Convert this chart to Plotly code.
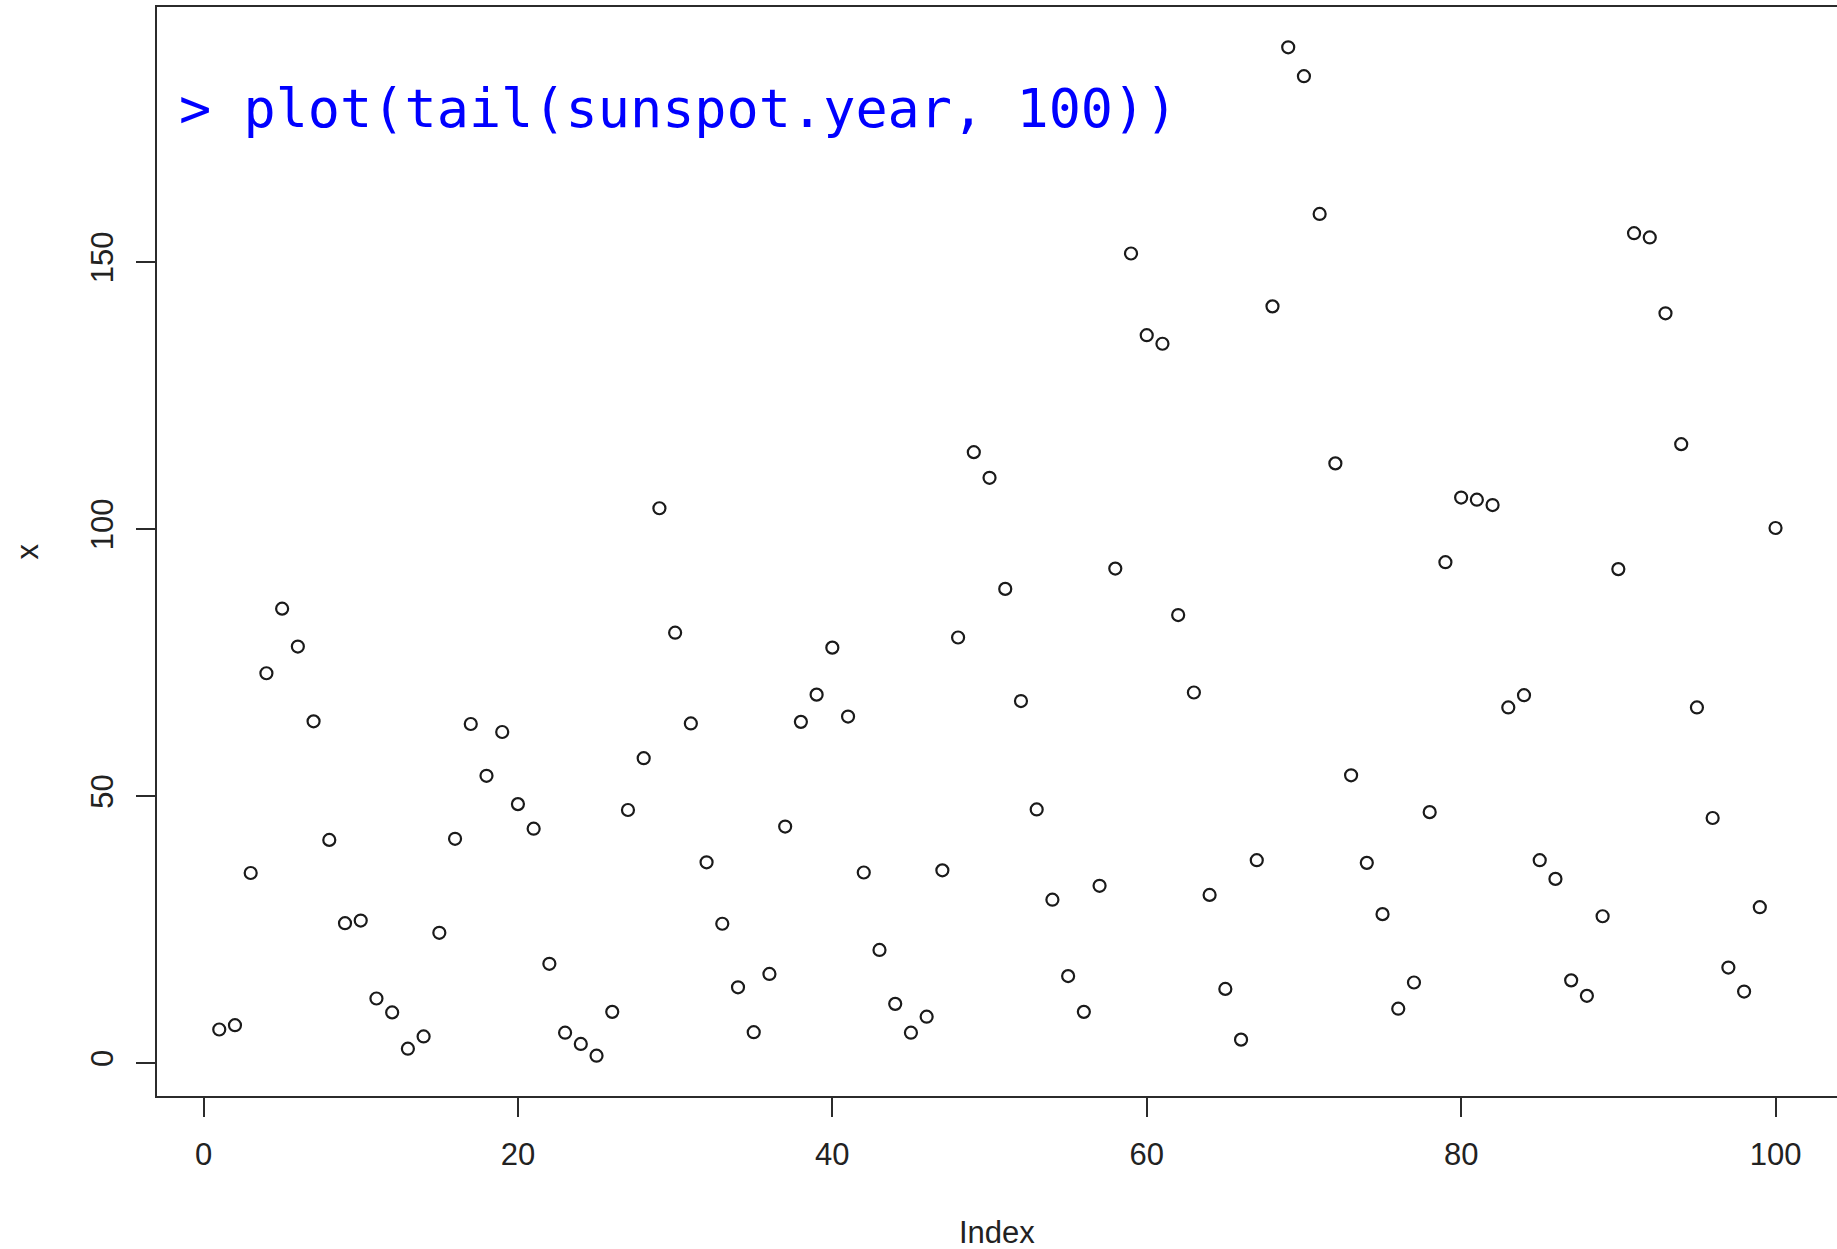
import plotly.graph_objects as go

# Yearly mean sunspot numbers, 1889-1988 (last 100 values of sunspot.year)
sunspots = [
    6.3, 7.1, 35.6, 73.0, 85.1, 78.0, 64.0, 41.8, 26.2, 26.7,
    12.1, 9.5, 2.7, 5.0, 24.4, 42.0, 63.5, 53.8, 62.0, 48.5,
    43.9, 18.6, 5.7, 3.6, 1.4, 9.6, 47.4, 57.1, 103.9, 80.6,
    63.6, 37.6, 26.1, 14.2, 5.8, 16.7, 44.3, 63.9, 69.0, 77.8,
    64.9, 35.7, 21.2, 11.1, 5.7, 8.7, 36.1, 79.7, 114.4, 109.6,
    88.8, 67.8, 47.5, 30.6, 16.3, 9.6, 33.2, 92.6, 151.6, 136.3,
    134.7, 83.9, 69.4, 31.5, 13.9, 4.4, 38.0, 141.7, 190.2, 184.8,
    159.0, 112.3, 53.9, 37.5, 27.9, 10.2, 15.1, 47.0, 93.8, 105.9,
    105.5, 104.5, 66.6, 68.9, 38.0, 34.5, 15.5, 12.6, 27.5, 92.5,
    155.4, 154.6, 140.4, 115.9, 66.6, 45.9, 17.9, 13.4, 29.2, 100.2,
]
index = list(range(1, len(sunspots) + 1))

x_ticks = [0, 20, 40, 60, 80, 100]
y_ticks = [0, 50, 100, 150]
command_text = "> plot(tail(sunspot.year, 100))"

axis_color = "#2b2b2b"
label_font = dict(family="Liberation Sans, Arial, sans-serif", size=31, color="#222222")

fig = go.Figure()
fig.add_trace(go.Scatter(
    x=index, y=sunspots, mode="markers",
    marker=dict(symbol="circle-open", size=12, color="#1a1a1a",
                line=dict(width=2.2, color="#1a1a1a")),
    showlegend=False, hoverinfo="x+y",
))

# R-style 4% padding on each axis
ymin, ymax = min(sunspots), max(sunspots)
ypad = 0.04 * (ymax - ymin)
xpad = 0.04 * (len(sunspots) - 1)

fig.update_layout(
    width=1837, height=1249,
    margin=dict(l=157, r=0, t=7, b=153),
    plot_bgcolor="white", paper_bgcolor="white",
    xaxis=dict(
        range=[1 - xpad, 1 - xpad + (1837 - 157) / 15.72],
        tickvals=x_ticks, ticktext=[str(v) for v in x_ticks],
        ticks="outside", ticklen=19, tickwidth=2, tickcolor=axis_color,
        showline=True, linecolor=axis_color, linewidth=2, mirror=True,
        showgrid=False, zeroline=False, tickfont=label_font,
        ticklabelstandoff=11,
    ),
    yaxis=dict(
        range=[ymin - ypad, ymax + ypad],
        tickvals=y_ticks, ticktext=[str(v) for v in y_ticks],
        ticks="outside", ticklen=19, tickwidth=2, tickcolor=axis_color,
        showline=True, linecolor=axis_color, linewidth=2,
        showgrid=False, zeroline=False, tickfont=label_font, tickangle=-90,
        ticklabelstandoff=11,
    ),
    annotations=[
        dict(text="Index", xref="paper", yref="paper", x=0.5, y=0,
             xanchor="center", yanchor="middle", yshift=-136,
             showarrow=False, font=label_font),
        dict(text="x", xref="paper", yref="paper", x=0, y=0.5,
             xanchor="center", yanchor="middle", xshift=-130, textangle=-90,
             showarrow=False, font=label_font),
        dict(text=command_text, xref="paper", yref="paper", x=0, y=1,
             xanchor="left", yanchor="middle", xshift=20, yshift=-101,
             showarrow=False,
             font=dict(family="DejaVu Sans Mono, monospace", size=53.5, color="#0000ff")),
    ],
)

fig.write_html("out.html")
